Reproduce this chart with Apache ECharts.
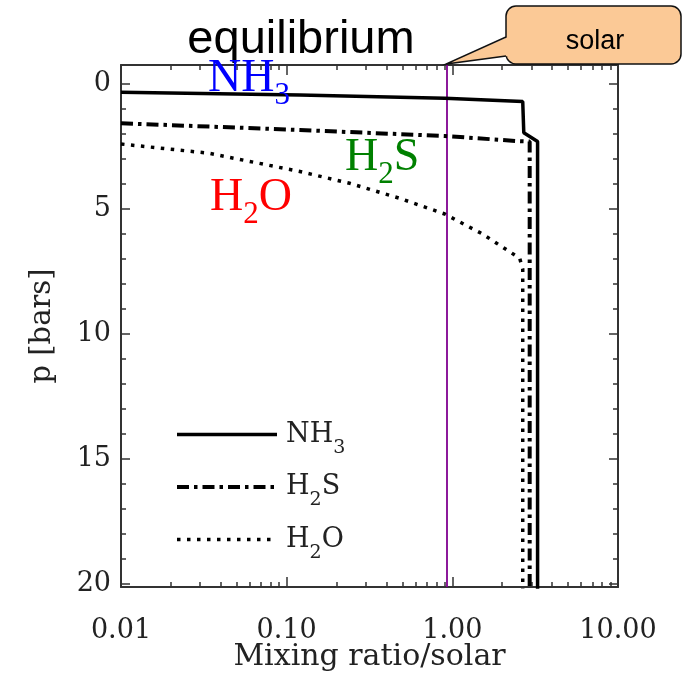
<!DOCTYPE html>
<html>
<head>
<meta charset="utf-8">
<script src="https://cdn.jsdelivr.net/npm/echarts@6/dist/echarts.min.js"></script>
<style>
html,body{margin:0;padding:0;background:#fff;}
#chart{width:683px;height:673px;}
</style>
</head>
<body>
<div id="chart"></div>
<script>
// ---- data ----
var seriesNames = ['NH3', 'H2S', 'H2O'];
var nh3X = [0.01, 0.12, 0.9, 2.66, 2.70, 3.27, 3.27];
var nh3P = [0.33, 0.44, 0.57, 0.70, 1.95, 2.30, 20.2];
var h2sX = [0.01, 0.12, 0.9, 2.44, 2.93, 2.93];
var h2sP = [1.57, 1.84, 2.08, 2.28, 2.30, 20.2];
var h2oX = [0.01, 0.034, 0.12, 0.24, 0.48, 0.9, 1.52, 2.55, 2.66, 2.66];
var h2oP = [2.40, 2.77, 3.50, 3.97, 4.57, 5.20, 6.00, 6.97, 7.40, 20.2];
var solarX = 0.92;

var xTickValues = [0.01, 0.1, 1, 10];
var xTickLabels = ['0.01', '0.10', '1.00', '10.00'];
var xMinorTicks = [0.02,0.03,0.04,0.05,0.06,0.07,0.08,0.09,
                   0.2,0.3,0.4,0.5,0.6,0.7,0.8,0.9,
                   2,3,4,5,6,7,8,9];
var yTickValues = [0, 5, 10, 15, 20];
var yTickLabels = ['0', '5', '10', '15', '20'];
var yMinorTicks = [1,2,3,4,6,7,8,9,11,12,13,14,16,17,18,19];

var xName = 'Mixing ratio/solar';
var yName = 'p [bars]';
var titleText = 'equilibrium';
var calloutText = 'solar';
var legendRich = ['{m|NH}{s|3}', '{m|H}{s|2}{m|S}', '{m|H}{s|2}{m|O}'];
// ---------------

function pairs(xs, ys){ return xs.map(function(x,i){ return [x, ys[i]]; }); }

var serif = 'DejaVu Serif';
var axisColor = '#333';
var X_MIN = 0.01, X_MAX = 10, Y_MIN = -0.76, Y_MAX = 20.12;

function xAxisDef(grid, pos, major, withLabels){
  return {
    gridIndex: grid, type: 'log', logBase: 10, min: X_MIN, max: X_MAX, position: pos,
    axisLine: {show: major, onZero: false, lineStyle: {color: axisColor, width: 2}},
    axisTick: {show: true, inside: true, length: major ? 10 : 5,
               lineStyle: {color: axisColor, width: 1.5},
               customValues: major ? xTickValues : xMinorTicks},
    axisLabel: withLabels ? {
      show: true, customValues: xTickValues, margin: 30,
      fontFamily: serif, fontSize: 27, color: '#222',
      formatter: function(v){ var i = xTickValues.findIndex(function(t){return Math.abs(t - v) < 1e-6 * Math.max(1, t);}); return i >= 0 ? xTickLabels[i] : ''; }
    } : {show: false},
    splitLine: {show: false}, minorTick: {show: false},
    name: withLabels ? xName : '', nameLocation: 'middle', nameGap: 55, nameMoveOverlap: false,
    nameTextStyle: {fontFamily: serif, fontSize: 30, color: '#222'}
  };
}
function yAxisDef(grid, pos, major, withLabels){
  return {
    gridIndex: grid, type: 'value', inverse: true, min: Y_MIN, max: Y_MAX, position: pos,
    axisLine: {show: major, onZero: false, lineStyle: {color: axisColor, width: 2}},
    axisTick: {show: true, inside: true, length: major ? 9 : 5,
               lineStyle: {color: axisColor, width: 1.5},
               customValues: major ? yTickValues : yMinorTicks},
    axisLabel: withLabels ? {
      show: true, customValues: yTickValues, margin: 10,
      fontFamily: serif, fontSize: 27, color: '#222',
      formatter: function(v){ var i = yTickValues.indexOf(Math.round(v)); return i >= 0 ? yTickLabels[i] : ''; }
    } : {show: false},
    splitLine: {show: false}, minorTick: {show: false},
    name: withLabels ? yName : '', nameLocation: 'middle', nameGap: 64, nameRotate: 90, nameMoveOverlap: false,
    nameTextStyle: {fontFamily: serif, fontSize: 29, color: '#222'}
  };
}

var lineStyles = [
  {color: '#000', width: 3.5, type: 'solid'},
  {color: '#000', width: 4, type: [12, 5, 3.5, 5]},
  {color: '#000', width: 3.5, type: [3.5, 6.5]}
];
var seriesData = [pairs(nh3X, nh3P), pairs(h2sX, h2sP), pairs(h2oX, h2oP)];

var series = seriesNames.map(function(n, i){
  var s = {
    name: n, type: 'line', data: seriesData[i], symbol: 'none', showSymbol: false,
    xAxisIndex: 0, yAxisIndex: 0, lineStyle: lineStyles[i], itemStyle: {color: '#000'},
    animation: false, z: 3, clip: true
  };
  if (i === 0) {
    s.markLine = {
      silent: true, symbol: ['none', 'none'], label: {show: false}, animation: false,
      lineStyle: {color: '#800090', width: 1.8, type: 'solid', opacity: 1},
      emphasis: {disabled: true},
      data: [{xAxis: solarX}], z: 2
    };
  }
  return s;
});

function labelText(main, sub, main2, color, x, y){
  var t = '{m|' + main + '}{s|' + sub + '}' + (main2 ? '{m|' + main2 + '}' : '');
  return {
    type: 'text', x: x, y: y, z: 10,
    style: {
      text: t, fill: color, verticalAlign: 'top', align: 'left',
      rich: {
        m: {fontFamily: 'Liberation Serif', fontSize: 46, lineHeight: 46, fill: color, verticalAlign: 'top'},
        s: {fontFamily: 'Liberation Serif', fontSize: 31, lineHeight: 55, fill: color, verticalAlign: 'bottom'}
      }
    }
  };
}

var gridBox = {left: 121, right: 65, top: 65, bottom: 86, containLabel: false, outerBoundsMode: 'none'};

var option = {
  backgroundColor: '#fff',
  animation: false,
  grid: [Object.assign({}, gridBox), Object.assign({}, gridBox)],
  xAxis: [xAxisDef(0, 'bottom', true, true), xAxisDef(0, 'top', true, false),
          xAxisDef(1, 'bottom', false, false), xAxisDef(1, 'top', false, false)],
  yAxis: [yAxisDef(0, 'left', true, true), yAxisDef(0, 'right', true, false),
          yAxisDef(1, 'left', false, false), yAxisDef(1, 'right', false, false)],
  legend: {
    orient: 'vertical', left: 170, top: 416, itemWidth: 100, itemHeight: 14, itemGap: 16,
    data: seriesNames,
    itemStyle: {opacity: 0},
    lineStyle: {width: 'inherit'},
    formatter: function(name){ return legendRich[seriesNames.indexOf(name)]; },
    textStyle: {
      fontFamily: serif, fontSize: 27, color: '#222', padding: [0, 0, 0, 4],
      rich: {
        m: {fontFamily: serif, fontSize: 27, lineHeight: 27, color: '#222', verticalAlign: 'middle'},
        s: {fontFamily: serif, fontSize: 19, lineHeight: 46, color: '#222', verticalAlign: 'bottom'}
      }
    },
    selectedMode: false
  },
  series: series,
  graphic: [
    {type: 'text', x: 301, y: 40, z: 10,
     style: {text: titleText, fontFamily: 'Liberation Sans', fontSize: 47, fill: '#000', align: 'center', verticalAlign: 'middle'}},
    {type: 'rect', z: 10, shape: {x: 506, y: 6, width: 175, height: 58, r: 10},
     style: {fill: '#FBC996', stroke: '#111', lineWidth: 1.5}},
    {type: 'polygon', z: 11, shape: {points: [[508, 37], [446, 64], [508, 56]]},
     style: {fill: '#FBC996', stroke: null}},
    {type: 'polyline', z: 12, shape: {points: [[506, 37], [446, 64], [506, 56]]},
     style: {fill: null, stroke: '#111', lineWidth: 1.5}},
    {type: 'text', x: 595, y: 42, z: 13,
     style: {text: calloutText, fontFamily: 'Liberation Sans', fontSize: 27, fill: '#000', align: 'center', verticalAlign: 'middle'}},
    labelText('NH', '3', '', '#0000FF', 208, 56),
    labelText('H', '2', 'S', '#008000', 345, 135),
    labelText('H', '2', 'O', '#FF0000', 210, 175)
  ]
};

var chart = echarts.init(document.getElementById('chart'), null, {renderer: 'canvas'});
chart.setOption(option);
</script>
</body>
</html>
